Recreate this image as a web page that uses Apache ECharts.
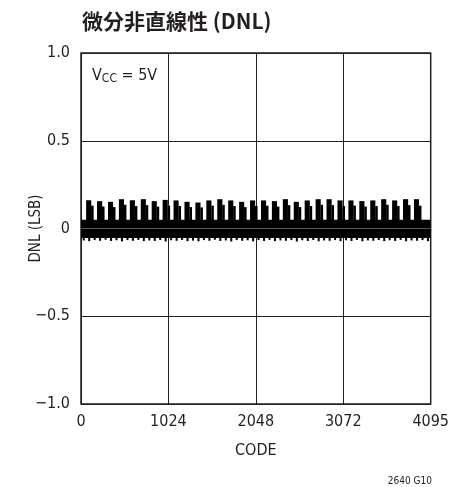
<!DOCTYPE html>
<html>
<head>
<meta charset="utf-8">
<script src="https://cdn.jsdelivr.net/npm/echarts@6/dist/echarts.min.js"></script>
<style>
  html, body { margin: 0; padding: 0; background: #fff; }
  #main { width: 452px; height: 487px; }
</style>
</head>
<body>
<div id="main"></div>
<script>
// 数据：近似值
var xTicks = [0, 1024, 2048, 3072, 4095];
var yTicks = [-1.0, -0.5, 0, 0.5, 1.0];
// 每 128 个码出现一次的正尖峰（code 128..3968）
var spikeCodes = [128, 256, 384, 512, 640, 768, 896, 1024, 1152, 1280, 1408, 1536, 1664, 1792, 1920, 2048,
                  2176, 2304, 2432, 2560, 2688, 2816, 2944, 3072, 3200, 3328, 3456, 3584, 3712, 3840, 3968];
var spikeTop = [0.161, 0.156, 0.152, 0.167, 0.161, 0.167, 0.156, 0.163,
                0.160, 0.152, 0.148, 0.160, 0.167, 0.160, 0.152, 0.160,
                0.160, 0.156, 0.167, 0.152, 0.160, 0.167, 0.167, 0.160,
                0.160, 0.156, 0.160, 0.167, 0.160, 0.167, 0.167];
var spikeTail = [0.130, 0.125, 0.122, 0.135, 0.128, 0.133, 0.125, 0.130,
                 0.128, 0.122, 0.120, 0.130, 0.135, 0.128, 0.122, 0.128,
                 0.130, 0.125, 0.133, 0.122, 0.128, 0.135, 0.133, 0.128,
                 0.130, 0.125, 0.128, 0.135, 0.128, 0.133, 0.130];
// 主带（密集部分）
var bandHigh = 0.05;
var bandLow = -0.054;
// 下方小齿，每 64 个码一个
var toothLow = [-0.068, -0.072, -0.066, -0.070, -0.064, -0.071, -0.067, -0.073, -0.066, -0.070, -0.065, -0.072, -0.068, -0.071, -0.066, -0.074,
                -0.067, -0.070, -0.065, -0.072, -0.069, -0.073, -0.066, -0.070, -0.064, -0.071, -0.068, -0.074, -0.066, -0.070, -0.067, -0.073,
                -0.066, -0.071, -0.065, -0.072, -0.068, -0.070, -0.066, -0.074, -0.067, -0.071, -0.065, -0.073, -0.068, -0.070, -0.066, -0.072,
                -0.067, -0.071, -0.065, -0.073, -0.068, -0.070, -0.066, -0.072, -0.067, -0.071, -0.065, -0.073, -0.068, -0.070, -0.066, -0.072];

var rects = [];
rects.push([0, 4095, bandLow, bandHigh]);
spikeCodes.forEach(function (c, i) {
    rects.push([c - 68, c - 8, bandHigh - 0.01, spikeTop[i]]);
    rects.push([c - 10, Math.min(c + 20, 4095), bandHigh - 0.01, spikeTail[i]]);
});
toothLow.forEach(function (v, j) {
    var c = j * 64 + 20;
    rects.push([c, Math.min(c + 24, 4095), v, bandLow + 0.01]);
});

var font = "'Liberation Sans Narrow', 'DejaVu Sans Condensed', 'Roboto Condensed', 'Liberation Sans', sans-serif";
var myChart = echarts.init(document.getElementById('main'));
myChart.setOption({
    animation: false,
    title: {
        text: '微分非直線性 (DNL)',
        left: 77,
        top: 6,
        textStyle: { fontFamily: "'Noto Sans CJK JP', sans-serif", fontSize: 21, fontWeight: 'bold', color: '#231f20' }
    },
    grid: { left: 81, right: 19, top: 53, bottom: 83, show: true, borderColor: '#231f20', borderWidth: 1.5 },
    xAxis: {
        type: 'value',
        min: 0, max: 4096, interval: 1024,
        name: 'CODE', nameLocation: 'middle', nameGap: 39,
        nameTextStyle: { fontFamily: font, fontSize: 16, color: '#231f20' },
        axisLine: { show: false }, axisTick: { show: false },
        axisLabel: {
            fontFamily: font, fontSize: 16, color: '#231f20', margin: 10,
            formatter: function (v) { return v === 4096 ? String(xTicks[4]) : String(v); }
        },
        splitLine: { lineStyle: { color: '#231f20', width: 1 } }
    },
    yAxis: {
        type: 'value',
        min: yTicks[0], max: yTicks[4], interval: 0.5,
        name: 'DNL (LSB)', nameLocation: 'middle', nameGap: 37, nameMoveOverlap: false,
        nameTextStyle: { fontFamily: font, fontSize: 15, color: '#231f20' },
        axisLine: { show: false }, axisTick: { show: false },
        axisLabel: {
            fontFamily: font, fontSize: 16, color: '#231f20', margin: 11,
            formatter: function (v) {
                if (v === 0) return '0';
                return (v < 0 ? '\u2212' : '') + Math.abs(v).toFixed(1);
            }
        },
        splitLine: { lineStyle: { color: '#231f20', width: 1 } }
    },
    series: [{
        type: 'custom',
        data: rects,
        renderItem: function (params, api) {
            var p0 = api.coord([api.value(0), api.value(3)]);
            var p1 = api.coord([api.value(1), api.value(2)]);
            return {
                type: 'rect',
                shape: { x: p0[0], y: p0[1], width: p1[0] - p0[0], height: p1[1] - p0[1] },
                style: { fill: '#000' }
            };
        },
        markLine: {
            silent: true, symbol: 'none', label: { show: false },
            lineStyle: { color: '#555', width: 1, type: 'solid' },
            data: [{ yAxis: 0 }]
        }
    }],
    graphic: [
        {
            type: 'text', left: 92, top: 68,
            style: {
                text: '{v|V}{s|CC}{v| = 5V}',
                rich: {
                    v: { fontFamily: font, fontSize: 16, fill: '#231f20' },
                    s: { fontFamily: font, fontSize: 12, fill: '#231f20', padding: [6, 0, 0, 0] }
                }
            }
        },
        {
            type: 'text', right: 20, top: 476,
            style: { text: '2640 G10', fontFamily: font, fontSize: 10, fill: '#231f20' }
        }
    ]
});
</script>
</body>
</html>
